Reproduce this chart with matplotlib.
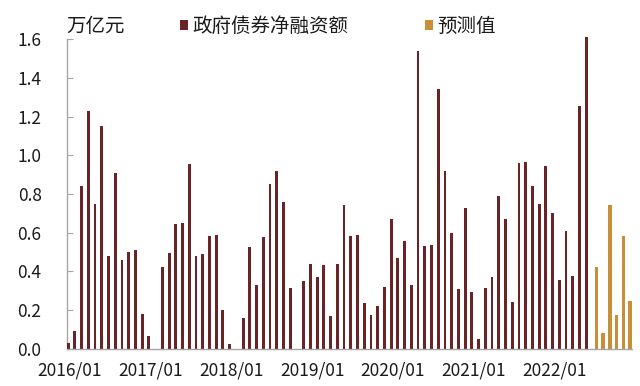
import matplotlib
matplotlib.use("Agg")
import matplotlib.pyplot as plt
import numpy as np

plt.rcParams['font.family'] = ['Noto Sans CJK SC', 'DejaVu Sans']

# ---- data (万亿元) ----
actual_2016 = [0.03, 0.09, 0.84, 1.23, 0.75, 1.15, 0.48, 0.91, 0.46, 0.50, 0.51, 0.18]
actual_2017 = [0.065, -0.005, 0.42, 0.494, 0.644, 0.651, 0.953, 0.48, 0.49, 0.58, 0.59, 0.20]
actual_2018 = [0.025, 0.0, 0.16, 0.525, 0.33, 0.575, 0.85, 0.92, 0.757, 0.315, -0.01, 0.35]
actual_2019 = [0.435, 0.37, 0.43, 0.17, 0.435, 0.745, 0.585, 0.59, 0.235, 0.175, 0.22, 0.32]
actual_2020 = [0.668, 0.467, 0.556, 0.327, 1.538, 0.53, 0.535, 1.343, 0.92, 0.60, 0.31, 0.725]
actual_2021 = [0.294, 0.05, 0.315, 0.37, 0.787, 0.67, 0.24, 0.958, 0.965, 0.84, 0.75, 0.946]
actual_2022 = [0.70, 0.355, 0.606, 0.373, 1.255, 1.61]
forecast_2022 = [0.42, 0.082, 0.741, 0.173, 0.582, 0.247]   # 2022/07 - 2022/12

tick_labels = ["2016/01", "2017/01", "2018/01", "2019/01", "2020/01", "2021/01", "2022/01"]
series_actual = "政府债券净融资额"
series_forecast = "预测值"
unit_label = "万亿元"

actual = (actual_2016 + actual_2017 + actual_2018 + actual_2019 +
          actual_2020 + actual_2021 + actual_2022)
n_total = len(actual) + len(forecast_2022)

maroon = "#6A2326"
gold = "#C98F38"
grey = "#A6A6A6"

fig = plt.figure(figsize=(6.4, 3.86), dpi=100)
ax = fig.add_axes([0.104, 0.097, 0.883, 0.801])

x_act = np.arange(len(actual))
x_fc = np.arange(len(actual), n_total)
off = 0.26
b1 = ax.bar(x_act - off, actual, width=0.42, color=maroon, label=series_actual,
            clip_on=False, zorder=3)
b2 = ax.bar(x_fc + off, forecast_2022, width=0.54, color=gold, label=series_forecast,
            clip_on=False, zorder=3)

ax.set_xlim(-0.5, n_total - 0.5)
ax.set_ylim(0, 1.6)
ax.set_yticks(np.arange(0, 1.61, 0.2))
ax.set_yticklabels([f"{v:.1f}" for v in np.arange(0, 1.61, 0.2)])
ax.set_xticks(np.arange(0, n_total, 12)[:len(tick_labels)])
ax.set_xticklabels(tick_labels)

for s in ["top", "right"]:
    ax.spines[s].set_visible(False)
for s in ["left", "bottom"]:
    ax.spines[s].set_color(grey)
    ax.spines[s].set_linewidth(1.0)
ax.spines["bottom"].set_zorder(4)

ax.tick_params(axis="y", direction="in", length=4, color=grey, pad=18,
               labelsize=12.5, labelcolor="#1a1a1a")
ax.tick_params(axis="x", length=0, pad=9, labelsize=12.5, labelcolor="#1a1a1a")

fig.text(66 / 640, 1 - 26 / 386, unit_label, fontsize=14, va="center", ha="left",
         color="#1a1a1a")

leg = ax.legend(handles=[b1, b2], ncol=2, frameon=False, fontsize=14,
                loc="center left", bbox_to_anchor=(180 / 640, 1 - 26 / 386),
                bbox_transform=fig.transFigure, borderpad=0, borderaxespad=0,
                handlelength=0.42, handleheight=0.42, handletextpad=0.2,
                columnspacing=3.95)
for t in leg.get_texts():
    t.set_color("#1a1a1a")

fig.savefig("out.png", dpi=100)
